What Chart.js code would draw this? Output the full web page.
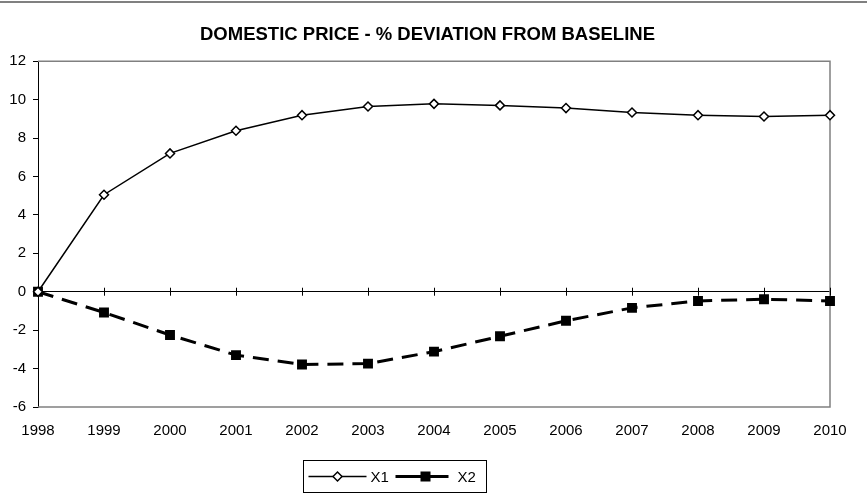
<!DOCTYPE html>
<html>
<head>
<meta charset="utf-8">
<title>Domestic price</title>
<script src="https://cdn.jsdelivr.net/npm/chart.js@4/dist/chart.umd.min.js"></script>
<style>
  html, body { margin: 0; padding: 0; background: #fff; }
  #wrap { width: 867px; height: 497px; }
</style>
</head>
<body>
<div id="wrap"><canvas id="priceChart" width="867" height="497"></canvas></div>
<script>
const years = ['1998', '1999', '2000', '2001', '2002', '2003', '2004', '2005', '2006', '2007', '2008', '2009', '2010'];
const x1Values = [0, 5.05, 7.2, 8.38, 9.19, 9.64, 9.78, 9.7, 9.56, 9.33, 9.19, 9.12, 9.19];
const x2Values = [0, -1.08, -2.25, -3.3, -3.79, -3.74, -3.12, -2.32, -1.51, -0.84, -0.48, -0.39, -0.48];
const yTicks = [-6, -4, -2, 0, 2, 4, 6, 8, 10, 12];

const fontFamily = '"Liberation Sans", Arial, sans-serif';

// frame, zero-line ticks and the boxed legend, Excel style
const excelFrame = {
    id: 'excelFrame',
    beforeDatasetsDraw(chart) {
        const ctx = chart.ctx;
        const area = chart.chartArea;
        const xScale = chart.scales.x;
        const yScale = chart.scales.y;
        const zeroY = yScale.getPixelForValue(0);

        ctx.save();
        // grey line at the very top
        ctx.strokeStyle = '#808080';
        ctx.lineWidth = 2;
        ctx.beginPath();
        ctx.moveTo(0, 2);
        ctx.lineTo(chart.width, 2);
        ctx.stroke();

        // plot area border (top, right, bottom)
        ctx.lineWidth = 1.5;
        ctx.beginPath();
        ctx.moveTo(area.left, area.top);
        ctx.lineTo(area.right, area.top);
        ctx.lineTo(area.right, area.bottom);
        ctx.lineTo(area.left, area.bottom);
        ctx.stroke();

        // tick marks across the zero line
        ctx.strokeStyle = '#000';
        ctx.lineWidth = 1;
        ctx.beginPath();
        years.forEach((y, i) => {
            const px = Math.round(xScale.getPixelForValue(i)) + 0.5;
            ctx.moveTo(px, zeroY - 4);
            ctx.lineTo(px, zeroY + 4);
        });
        ctx.stroke();
        ctx.restore();
    },
    afterDraw(chart) {
        const ctx = chart.ctx;
        const cx = (chart.chartArea.left + chart.chartArea.right) / 2;
        const boxW = 183, boxH = 32;
        const boxX = Math.round(cx - boxW / 2 - 40) + 0.5;
        const boxY = chart.chartArea.bottom + 53.5;
        const midY = boxY + boxH / 2;
        const diamond = { pointStyle: 'rectRot', radius: 4.5, borderWidth: 1.5 };

        ctx.save();
        ctx.strokeStyle = '#000';
        ctx.lineWidth = 1;
        ctx.strokeRect(boxX, boxY, boxW, boxH);

        ctx.font = '15px ' + fontFamily;
        ctx.textBaseline = 'middle';

        // X1 entry
        ctx.lineWidth = 1.5;
        ctx.beginPath();
        ctx.moveTo(boxX + 5, midY);
        ctx.lineTo(boxX + 63, midY);
        ctx.stroke();
        ctx.fillStyle = '#fff';
        Chart.helpers.drawPoint(ctx, diamond, boxX + 34, midY);
        ctx.fillStyle = '#000';
        ctx.fillText('X1', boxX + 67, midY + 1);

        // X2 entry
        ctx.lineWidth = 3;
        ctx.beginPath();
        ctx.moveTo(boxX + 92, midY);
        ctx.lineTo(boxX + 145, midY);
        ctx.stroke();
        ctx.fillRect(boxX + 117, midY - 5, 10, 10);
        ctx.fillText('X2', boxX + 154, midY + 1);
        ctx.restore();
    }
};

const ctx = document.getElementById('priceChart').getContext('2d');
const chart = new Chart(ctx, {
    type: 'line',
    data: {
        labels: years,
        datasets: [{
            label: 'X1',
            data: x1Values,
            borderColor: '#000',
            borderWidth: 1.5,
            backgroundColor: '#fff',
            pointStyle: 'rectRot',
            pointRadius: 4.5,
            pointBorderWidth: 1.5,
            pointBackgroundColor: '#fff',
            pointBorderColor: '#000',
            tension: 0
        }, {
            label: 'X2',
            data: x2Values,
            borderColor: '#000',
            borderWidth: 3,
            borderDash: [16, 9],
            backgroundColor: '#000',
            pointStyle: 'rect',
            pointRadius: 7,
            pointBorderWidth: 0,
            pointBackgroundColor: '#000',
            tension: 0
        }]
    },
    options: {
        responsive: false,
        animation: false,
        layout: { padding: { left: 0, right: 12, top: 0, bottom: 0 } },
        plugins: {
            legend: { display: false },
            tooltip: { enabled: false },
            title: {
                display: true,
                text: 'DOMESTIC PRICE - % DEVIATION FROM BASELINE',
                color: '#000',
                font: { family: fontFamily, size: 18.5, weight: 'bold', lineHeight: 1.2 },
                padding: { top: 24, bottom: 15 }
            }
        },
        scales: {
            x: {
                offset: false,
                grid: { display: false, drawTicks: false },
                border: { display: false },
                ticks: {
                    color: '#000',
                    padding: 15,
                    maxRotation: 0,
                    autoSkip: false,
                    font: { family: fontFamily, size: 15 }
                },
                afterFit(scale) { scale.height = 90; }
            },
            y: {
                min: -6,
                max: 12,
                afterBuildTicks(scale) {
                    scale.ticks = yTicks.map(v => ({ value: v }));
                },
                grid: {
                    color: c => (c.tick && c.tick.value === 0) ? '#000' : 'rgba(0,0,0,0)',
                    tickColor: '#000',
                    tickLength: 5,
                    lineWidth: 1
                },
                border: { display: true, color: '#000', width: 1 },
                ticks: {
                    color: '#000',
                    padding: 7,
                    font: { family: fontFamily, size: 15 }
                },
                afterFit(scale) { scale.width = 38; }
            },
            // empty spacer on the right so the title centres like the original
            spacer: {
                type: 'linear',
                position: 'right',
                grid: { display: false, drawTicks: false },
                border: { display: false },
                ticks: { display: false },
                afterFit(scale) { scale.width = 25; }
            }
        }
    },
    plugins: [excelFrame]
});
</script>
</body>
</html>
